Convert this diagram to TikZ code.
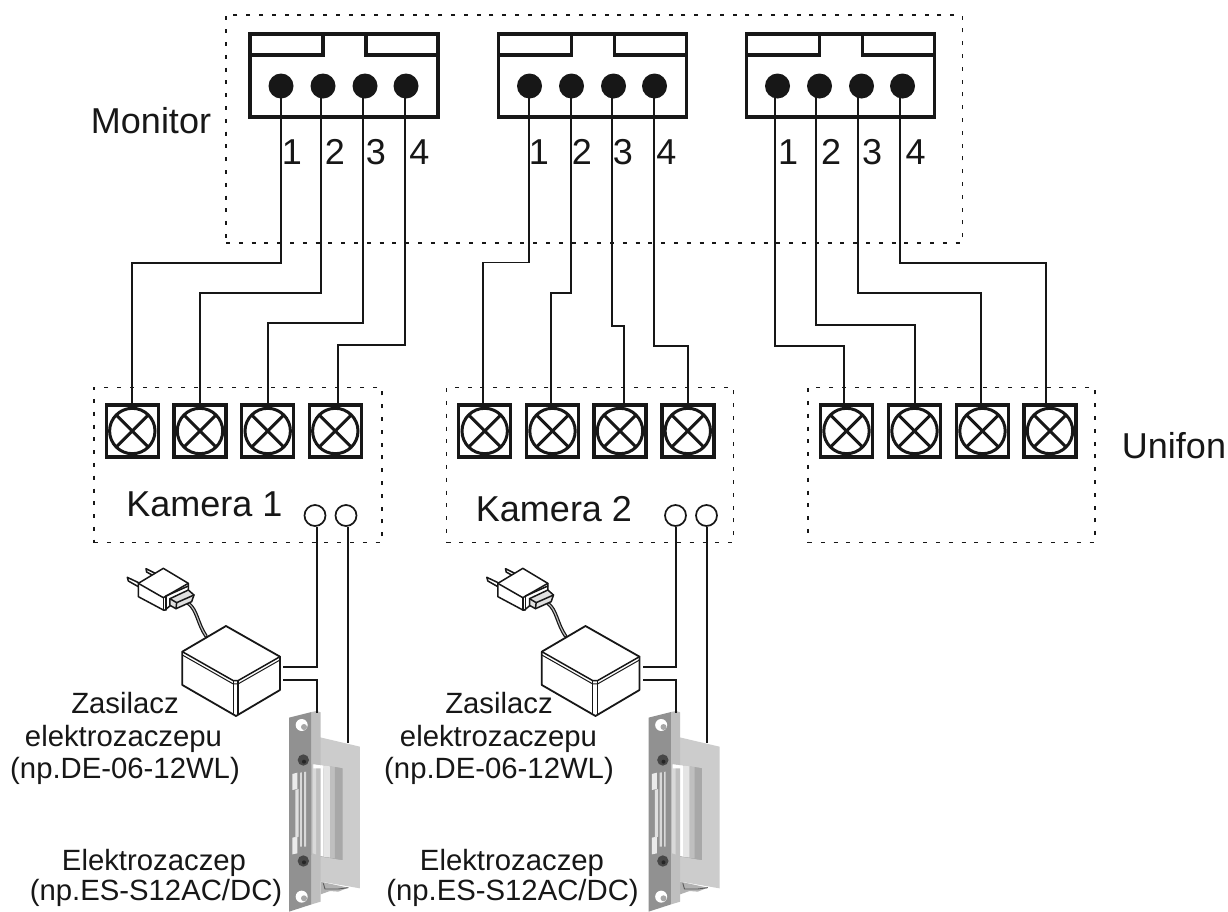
\documentclass[tikz,border=0pt]{standalone}
\usepackage{fontspec}
\setmainfont{Liberation Sans}
\definecolor{ink}{gray}{0.09}
\tikzset{
  dotbox/.style={draw=ink,line width=1.8pt,dash pattern=on 4pt off 8.8pt,anchor=north west,inner sep=0pt,outer sep=0pt},
  wire/.style={draw=ink,line width=1.8pt,line join=miter},
  thick box/.style={draw=ink,line width=3.4pt},
  pin/.style={circle,fill=ink,inner sep=0pt,minimum size=25pt},
  term/.style={draw=ink,line width=3.4pt,inner sep=0pt,minimum size=52pt,outer sep=0pt,
    path picture={\draw[line width=3pt,ink] (path picture bounding box.center) circle (22.7pt);
      \draw[line width=3pt,ink] ([shift={(-16pt,-16pt)}]path picture bounding box.center)--([shift={(16pt,16pt)}]path picture bounding box.center);
      \draw[line width=3pt,ink] ([shift={(-16pt,16pt)}]path picture bounding box.center)--([shift={(16pt,-16pt)}]path picture bounding box.center);}},
  ring/.style={circle,draw=ink,line width=1.7pt,inner sep=0pt,minimum size=21pt,fill=white},
  big/.style={font=\fontsize{36}{36}\selectfont,text=ink,anchor=base,inner sep=0pt},
  small/.style={font=\fontsize{29.3}{29.3}\selectfont,text=ink,anchor=base,inner sep=0pt},
  hw/.style={draw=ink,line width=1.5pt,line join=round,line cap=round},
}
\newcommand{\monitorblock}[3]{% name, box offset, number offset
  \begin{scope}[xshift=#2pt]
    \draw[thick box] (250,34) rectangle (438,117);
    \draw[thick box] (250,55) -- (323,55) -- (323,34);
    \draw[thick box] (438,55) -- (366,55) -- (366,34);
    \node[pin] (#1a) at (281,86) {};
    \node[pin] (#1b) at (323,86) {};
    \node[pin] (#1c) at (365,86) {};
    \node[pin] (#1d) at (406,86) {};
  \end{scope}
  \begin{scope}[xshift=#3pt]
    \node[big] (#1n1) at (292,164) {1};
    \node[big] (#1n2) at (335,164) {2};
    \node[big] (#1n3) at (376,164) {3};
    \node[big] (#1n4) at (419.5,164) {4};
  \end{scope}}
% pin, wire x, run y, wire x at terminal, terminal
\newcommand{\wirefrom}[5]{\draw[wire] (#2,0 |- #1.center) -- (#2,#3) -- (#4,#3) -- (#4,0 |- #5.north);}
\newcommand{\lockset}[1]{%
  % plug and cable
  \begin{scope}[xshift=#1pt+120pt,yshift=-560pt,x=0.3333pt,y=-0.3333pt]
    \draw[line width=3.6pt,ink,line cap=round] (205,130) .. controls (232,150) and (232,190) .. (258,228);
    \draw[line width=1.1pt,black!25] (205,130) .. controls (232,150) and (232,190) .. (258,228);
    \draw[hw,fill=white] (22,52) -- (60,70) -- (55,80) -- (25,63) -- cycle;
    \draw[hw,fill=white] (78,26) -- (110,42) -- (105,50) -- (80,36) -- cycle;
    \draw[hw,fill=white] (55,70) -- (130,25) -- (205,70) -- (205,92) -- (135,150) -- (130,150) -- (55,110) -- cycle;
    \draw[hw] (55,70) -- (130,113) -- (205,70);
    \draw[hw] (130,113) -- (130,150);
    \draw[hw] (138,108) -- (138,150);
    \draw[hw] (138,108) -- (205,78);
    \draw[hw,fill=black!12] (150,116) -- (205,90) -- (222,105) -- (215,125) -- (168,146) -- (150,136) -- cycle;
    \draw[hw] (150,116) -- (170,128) -- (222,105);
    \draw[hw] (170,128) -- (168,146);
  \end{scope}
  % power supply
  \begin{scope}[xshift=#1pt+100pt,yshift=-550pt,x=0.3333pt,y=-0.3333pt]
    \draw[hw,line width=1.8pt,fill=white] (247,305) -- (378,228) -- (540,320) -- (540,420) -- (408,498) -- (247,405) -- cycle;
    \draw[hw] (247,305) -- (400,392) -- (414,392) -- (540,320);
    \draw[hw,line width=1pt] (247,315) -- (400,402) -- (414,402) -- (540,330);
    \draw[hw,line width=1.1pt] (400,392) -- (400,490);
    \draw[hw,line width=1.1pt] (414,392) -- (414,492);
  \end{scope}
  % door strike
  \begin{scope}[xshift=#1pt+280pt,yshift=-705pt,x=0.3333pt,y=-0.3333pt]
    \fill[black!30] (122,530) -- (205,548) -- (175,560) -- (150,558) -- (122,568) -- cycle;
    \draw[black!65,line width=.9pt] (130,535) -- (135,552) -- (175,552) -- (205,548);
    \fill[black!20] (112,95) -- (240,125) -- (240,550) -- (112,528) -- cycle;
    \fill[black!42] (95,178) -- (187,190) -- (187,465) -- (95,450) -- cycle;
    \fill[black!25] (150,183) -- (187,190) -- (187,465) -- (150,458) -- cycle;
    \fill[black!34] (165,186) -- (187,190) -- (187,465) -- (165,461) -- cycle;
    \fill[black!10] (130,182) -- (150,184) -- (150,458) -- (130,455) -- cycle;
    \fill[white] (100,178) -- (130,182) -- (130,455) -- (100,448) -- cycle;
    \fill[black!43] (27,38) -- (95,21) -- (95,598) -- (27,620) -- cycle;
    \fill[black!25] (95,21) -- (110,18) -- (122,22) -- (122,590) -- (95,598) -- cycle;
    \fill[black!15] (98,178) -- (108,178) -- (108,448) -- (98,445) -- cycle;
    \fill[white] (100,178) -- (130,182) -- (130,190) -- (100,190) -- cycle;
    \fill[black!8] (37,207) -- (52,203) -- (52,252) -- (37,255) -- cycle;
    \fill[black!8] (37,398) -- (52,395) -- (52,445) -- (37,448) -- cycle;
    \fill[black!12] (46,255) -- (56,252) -- (56,395) -- (46,398) -- cycle;
    \fill[black!15] (60,203) -- (78,200) -- (78,425) -- (60,425) -- cycle;
    \fill[black!45] (67,200) -- (72,200) -- (72,425) -- (67,425) -- cycle;
    \fill[black!72] (70,165) circle (17);
    \fill[black!72] (70,468) circle (17);
    \fill[black!85] (72,170) circle (6);
    \fill[black!85] (72,472) circle (6);
    \fill[white] (65,60) circle (18);
    \fill[black!35] (72,66) circle (9);
    \fill[white] (65,575) circle (18);
    \fill[black!35] (72,580) circle (9);
  \end{scope}}
\begin{document}
\begin{tikzpicture}[x=1pt,y=-1pt]
\useasboundingbox (0,0) rectangle (1228,911);
\fill[white] (0,0) rectangle (1228,911);
% dotted areas
\node[dotbox,minimum width=736.5pt,minimum height=228pt] (monitorarea) at (226,15) {};
\node[dotbox,minimum width=288pt,minimum height=155pt] (kam1) at (94,387.5) {};
\node[dotbox,minimum width=287pt,minimum height=155pt] (kam2) at (446.5,387.5) {};
\node[dotbox,minimum width=287pt,minimum height=155pt] (unif) at (808,387.5) {};
% lock hardware
\lockset{0}
\lockset{359.5}
% monitor terminals
\monitorblock{ma}{0}{0}
\monitorblock{mb}{248.5}{247}
\monitorblock{mc}{496.5}{496}
% terminals
\node[term] (k1a) at (132.3,431) {};
\node[term] (k1b) at (200,431) {};
\node[term] (k1c) at (267.7,431) {};
\node[term] (k1d) at (335.3,431) {};
\node[term] (k2a) at (484.7,431) {};
\node[term] (k2b) at (552.5,431) {};
\node[term] (k2c) at (620,431) {};
\node[term] (k2d) at (687.8,431) {};
\node[term] (ua) at (846.5,431) {};
\node[term] (ub) at (914.5,431) {};
\node[term] (uc) at (982.5,431) {};
\node[term] (ud) at (1050,431) {};
% wiring
\wirefrom{maa}{280.7}{263}{132.3}{k1a}
\wirefrom{mab}{321}{293}{200.3}{k1b}
\wirefrom{mac}{363}{323}{268}{k1c}
\wirefrom{mad}{405}{345}{337.7}{k1d}
\wirefrom{mba}{529}{262.5}{483.3}{k2a}
\wirefrom{mbb}{570.7}{293.3}{551}{k2b}
\wirefrom{mbc}{612}{326}{624.3}{k2c}
\wirefrom{mbd}{653.7}{345.7}{688.3}{k2d}
\wirefrom{mca}{775}{345.7}{844}{ua}
\wirefrom{mcb}{816.3}{325}{915}{ub}
\wirefrom{mcc}{858}{293}{981}{uc}
\wirefrom{mcd}{900}{262.7}{1046}{ud}
% rings and lock wires
\node[ring] (r1a) at (315,515.5) {};
\node[ring] (r1b) at (346,515.5) {};
\node[ring] (r2a) at (675.5,515.5) {};
\node[ring] (r2b) at (706.5,515.5) {};
\coordinate (p1a) at (283,667);
\coordinate (p1b) at (283,680);
\coordinate (s1a) at (317.3,713);
\coordinate (s1b) at (347.7,743);
\coordinate (p2a) at (643,667);
\coordinate (p2b) at (643,680);
\coordinate (s2a) at (676,713);
\coordinate (s2b) at (707,743);
\draw[wire] (r1a.south -| s1a) |- (p1a);
\draw[wire] (r1b.south -| s1b) -- (s1b);
\draw[wire] (p1b) -| (s1a);
\draw[wire] (r2a.south -| s2a) |- (p2a);
\draw[wire] (r2b.south -| s2b) -- (s2b);
\draw[wire] (p2b) -| (s2a);
% labels
\node[big] (lmon) at (151,133) {Monitor};
\node[big] (lk1) at (204.5,516) {Kamera 1};
\node[big] (lk2) at (554,521.5) {Kamera 2};
\node[big] (lun) at (1174,458) {Unifon};
\node[small] (z1a) at (125,713) {Zasilacz};
\node[small] (z1b) at (123.5,746) {elektrozaczepu};
\node[small] (z1c) at (125,778) {(np.DE-06-12WL)};
\node[small] (e1a) at (154,870) {Elektrozaczep};
\node[small] (e1b) at (156,900) {(np.ES-S12AC/DC)};
\node[small] (z2a) at (499,713) {Zasilacz};
\node[small] (z2b) at (498.5,746) {elektrozaczepu};
\node[small] (z2c) at (499,778) {(np.DE-06-12WL)};
\node[small] (e2a) at (512,870) {Elektrozaczep};
\node[small] (e2b) at (512.5,900) {(np.ES-S12AC/DC)};
\end{tikzpicture}
\end{document}
